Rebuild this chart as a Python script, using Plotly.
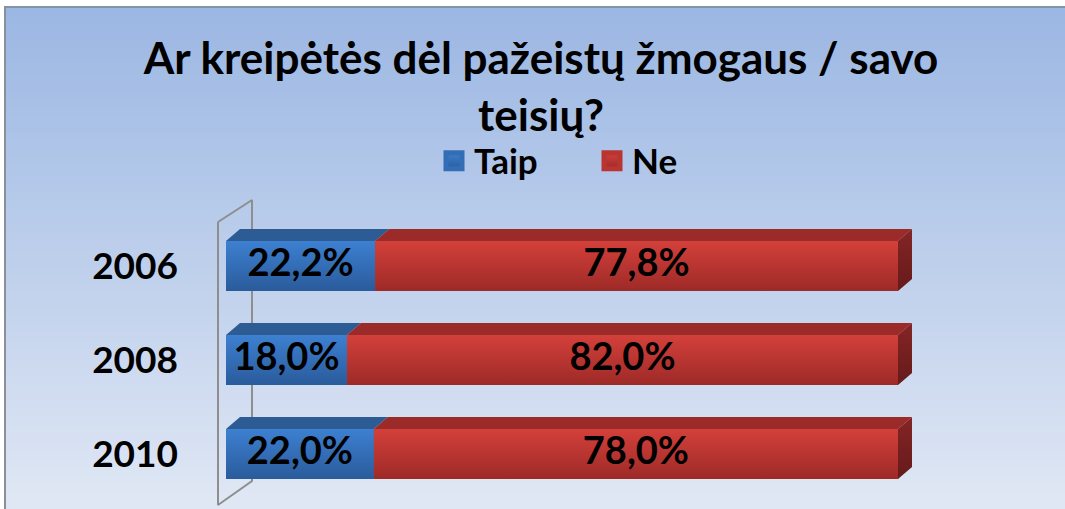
import plotly.graph_objects as go

# ---------------- data ----------------
years = ["2006", "2008", "2010"]
taip = [22.2, 18.0, 22.0]
ne = [77.8, 82.0, 78.0]
series_names = ["Taip", "Ne"]
title_text = "Ar kreipėtės dėl pažeistų žmogaus / savo<br>teisių?"

# ---------------- styling ----------------
W, H = 1065, 509
L, R, T, B = 200, 5, 190, 0
PW, PH = W - L - R, H - T - B
kx = 672 / 100.0          # px per x unit
ky = 94.0                 # px per category
x0px = 226                # pixel of x=0
xmin = -(x0px - L) / kx
xmax = xmin + PW / kx
ymin = -(266 - T) / ky
ymax = ymin + PH / ky
bw = 50 / ky              # bar thickness (category units)
dx = 14 / kx              # 3D depth in x units
dy = 12 / ky              # 3D depth in y units

FONT = "Lato"
blue_front = ["#3D80D1", "#2A5B9B"]
blue_mid = "#336DB6"
blue_top = "#2D5C95"
red_front = ["#D4403B", "#9D2A27"]
red_mid = "#B93532"
red_top = "#9B2B28"
red_side = ["#842525", "#651A1A"]

pos = list(range(len(years)))

def fmt(v):
    return f"{v:.1f}%".replace(".", ",")

fig = go.Figure()

# wall (y axis 3D wall)
wx_front = -8 / kx
wx_back = 26 / kx
wy_top_front = (222 - 266) / ky
wy_top_back = (200 - 266) / ky
wy_bot_back = (481 - 266) / ky
wy_bot_front = (505 - 266) / ky
fig.add_trace(go.Scatter(
    x=[wx_front, wx_back, wx_back, wx_front, wx_front],
    y=[wy_top_front, wy_top_back, wy_bot_back, wy_bot_front, wy_top_front],
    mode="lines", line=dict(color="#8E8E8E", width=2),
    showlegend=False, hoverinfo="skip"))

# base bars (front faces)
fig.add_trace(go.Bar(y=pos, x=taip, orientation="h", width=bw, name=series_names[0],
                     legendgroup="taip", showlegend=False,
                     marker=dict(color=blue_mid, line=dict(width=0)), hoverinfo="skip"))
fig.add_trace(go.Bar(y=pos, x=ne, base=taip, orientation="h", width=bw, name=series_names[1],
                     legendgroup="ne", showlegend=False,
                     marker=dict(color=red_mid, line=dict(width=0)), hoverinfo="skip"))

def poly(xs, ys, color=None, grad=None, start=None, stop=None):
    kw = dict(x=xs + [xs[0]], y=ys + [ys[0]], mode="lines", fill="toself",
              line=dict(width=0), showlegend=False, hoverinfo="skip")
    if grad:
        kw["fillgradient"] = dict(type="vertical", colorscale=[[0, grad[0]], [1, grad[1]]],
                                  start=start, stop=stop)
        kw["fillcolor"] = grad[0]
    else:
        kw["fillcolor"] = color
    fig.add_trace(go.Scatter(**kw))

for i, p in enumerate(pos):
    top = p - bw / 2
    bot = p + bw / 2
    segs = [(0, taip[i], blue_front, blue_top), (taip[i], taip[i] + ne[i], red_front, red_top)]
    for a, b, front, topc in segs:
        poly([a, b, b, a], [top, top, bot, bot], grad=front, start=top, stop=bot)
        poly([a, b, b + dx, a + dx], [top, top, top - dy, top - dy], color=topc)
    end = taip[i] + ne[i]
    poly([end, end + dx, end + dx, end], [top, top - dy, bot - dy, bot],
         grad=red_side, start=top - dy, stop=bot)

# value labels
lx, ly, lt = [], [], []
for i, p in enumerate(pos):
    lx += [taip[i] / 2, taip[i] + ne[i] / 2]
    ly += [p, p]
    lt += [fmt(taip[i]), fmt(ne[i])]
fig.add_trace(go.Scatter(x=lx, y=ly, text=lt, mode="text",
                         textfont=dict(family=FONT, size=38, color="black", weight="bold"),
                         showlegend=False, hoverinfo="skip"))

# legend keys (square swatches with vertical gradient)
for nm, grp, cols, mid in [(series_names[0], "taip", blue_front, blue_mid),
                           (series_names[1], "ne", red_front, red_mid)]:
    fig.add_trace(go.Scatter(x=[None], y=[None], mode="markers", name=nm, legendgroup=grp,
                             marker=dict(symbol="square", size=22, color=cols[0],
                                         gradient=dict(type="vertical", color=cols[1]),
                                         line=dict(width=5, color=mid)),
                             hoverinfo="skip"))

# background gradient & border
shapes = []
def px2paper_x(px):
    return (px - L) / PW
def px2paper_y(py):
    return (H - B - py) / PH

top_c = (0x9B, 0xB7, 0xE3)
bot_c = (0xE0, 0xE7, 0xF4)
n = 60
y_start, y_end = 7, H
for k in range(n):
    f = k / (n - 1)
    c = tuple(round(top_c[j] + (bot_c[j] - top_c[j]) * f) for j in range(3))
    ya = y_start + (y_end - y_start) * k / n
    yb = y_start + (y_end - y_start) * (k + 1) / n + 1
    shapes.append(dict(type="rect", xref="paper", yref="paper", layer="below",
                       x0=px2paper_x(5), x1=px2paper_x(W + 2),
                       y0=px2paper_y(ya), y1=px2paper_y(min(yb, H)),
                       fillcolor="rgb(%d,%d,%d)" % c, line=dict(width=0)))
shapes.append(dict(type="line", xref="paper", yref="paper", layer="below",
                   x0=px2paper_x(4), x1=px2paper_x(W + 2), y0=px2paper_y(7), y1=px2paper_y(7),
                   line=dict(color="#8593A8", width=2)))
shapes.append(dict(type="line", xref="paper", yref="paper", layer="below",
                   x0=px2paper_x(5), x1=px2paper_x(5), y0=px2paper_y(6), y1=px2paper_y(H + 2),
                   line=dict(color="#8A8F99", width=2)))

fig.update_layout(
    width=W, height=H,
    margin=dict(l=L, r=R, t=T, b=B, autoexpand=False),
    paper_bgcolor="white", plot_bgcolor="rgba(0,0,0,0)",
    barmode="stack", bargap=0,
    shapes=shapes,
    title=dict(text=title_text, x=0.508, xanchor="center", xref="container",
               y=1 - 74 / H, yanchor="top", yref="container",
               font=dict(family=FONT, size=44, color="black", weight="bold")),
    legend=dict(orientation="h", x=434 / W, xanchor="left", xref="container",
                y=1 - 161 / H, yanchor="middle", yref="container",
                traceorder="normal", itemsizing="trace",
                font=dict(family=FONT, size=35, color="black", weight="bold"),
                bgcolor="rgba(0,0,0,0)", entrywidth=113, entrywidthmode="pixels"),
    xaxis=dict(range=[xmin, xmax], visible=False, fixedrange=True),
    yaxis=dict(range=[ymax, ymin], tickvals=pos, ticktext=years, showgrid=False,
               zeroline=False, showline=False, ticks="", ticklabelstandoff=21,
               automargin=False,
               tickfont=dict(family=FONT, size=37, color="black", weight="bold")),
)

fig.write_html("out.html", config={"displayModeBar": False},
               post_script="document.body.style.margin='0';document.body.style.overflow='hidden';")
